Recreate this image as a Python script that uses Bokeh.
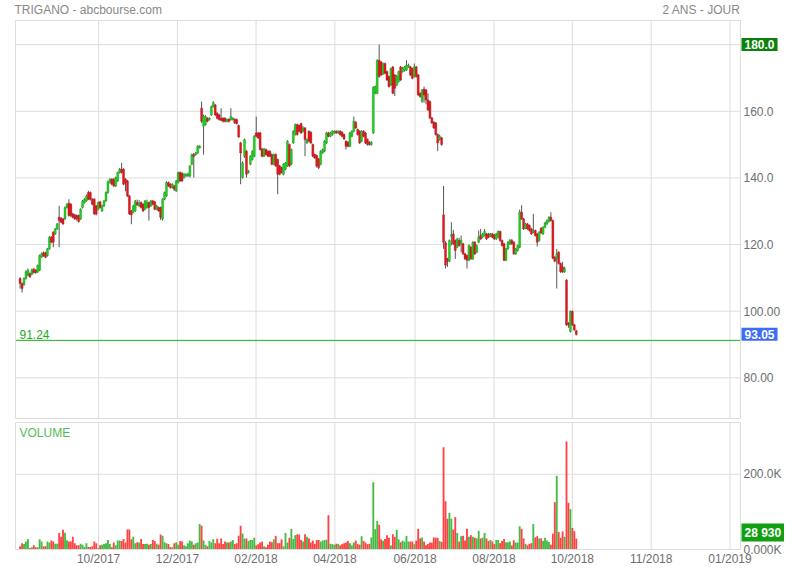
from bokeh.plotting import figure
from bokeh.models import ColumnDataSource, Label, Range1d
from bokeh.embed import file_html
from bokeh.resources import INLINE

# ---------------- data ----------------
open_ = [109.8,108.3,108.0,109.8,110.8,111.3,111.0,112.6,112.3,111.8,
         112.3,116.2,117.5,117.5,116.7,118.7,122.2,123.7,123.2,124.7,
         128.2,127.9,127.7,127.7,131.1,132.4,132.1,129.2,128.9,128.7,
         128.7,127.7,131.1,132.6,133.1,135.6,135.6,133.6,133.6,131.6,
         130.6,132.8,130.1,131.6,133.1,135.6,138.6,139.6,139.6,137.6,
         139.1,141.6,142.6,142.6,139.6,139.1,134.6,130.1,129.7,130.1,
         132.6,131.6,132.6,132.1,130.6,131.1,132.6,131.6,133.1,132.8,
         130.6,131.1,131.1,127.7,133.6,134.6,138.6,138.1,137.1,137.6,
         136.1,138.6,141.6,141.4,140.1,140.6,140.6,140.6,144.1,147.0,
         147.0,147.5,149.0,160.9,155.5,156.0,157.9,157.5,158.9,161.4,
         161.9,159.4,158.9,157.9,157.9,157.9,157.0,157.6,157.5,157.5,
         157.6,157.5,155.7,150.5,140.1,146.5,148.0,141.6,144.1,145.5,
         146.5,153.5,153.5,153.5,148.7,146.5,148.5,148.0,148.0,147.0,
         144.1,147.0,145.5,143.6,143.1,141.1,142.6,143.6,150.0,144.1,
         150.5,153.0,156.0,155.7,156.3,154.0,155.0,150.5,154.0,153.7,
         150.0,147.0,146.7,145.7,144.1,147.5,148.0,150.5,153.5,152.5,
         153.0,153.5,154.0,153.5,154.0,153.7,153.0,151.0,150.7,149.5,
         152.5,154.0,156.7,154.5,154.0,151.0,154.0,153.5,151.5,150.7,
         150.0,153.5,165.4,165.4,175.3,174.8,171.2,174.3,171.9,170.4,
         167.9,173.3,170.9,167.9,168.9,173.3,171.9,172.2,172.4,173.3,
         173.3,172.8,170.4,173.3,170.9,165.4,162.9,166.6,166.4,163.4,
         162.9,158.0,156.7,156.5,153.0,151.5,152.0,128.9,120.5,115.7,
         115.0,122.5,123.2,121.2,119.2,121.2,120.2,120.2,117.2,116.7,
         115.3,119.2,115.7,120.7,117.7,120.7,122.7,122.2,122.7,123.2,
         123.2,122.5,123.2,122.9,121.7,122.2,123.9,121.2,120.2,115.3,
         118.7,120.2,121.2,120.7,117.2,118.2,119.2,129.7,127.7,124.9,
         126.2,125.7,124.7,123.7,124.2,123.2,121.2,124.9,123.2,125.2,
         126.2,126.9,128.2,127.2,116.2,115.7,117.7,114.3,113.3,111.8,
         109.3,96.4,93.9,99.9,95.9,94.1]
high = [110.2,108.6,110.2,112.3,112.8,111.6,112.8,113.0,112.6,114.0,
        117.0,117.6,117.9,117.8,119.0,122.6,122.5,124.0,125.0,126.5,
        131.6,128.2,128.0,131.4,132.4,133.6,132.4,129.5,129.2,129.0,
        129.0,130.9,133.4,133.9,135.0,136.1,135.9,133.9,133.9,131.9,
        132.9,133.1,131.9,133.4,135.9,139.2,139.9,139.9,139.9,140.4,
        141.9,143.0,144.5,142.9,139.9,139.4,134.9,130.4,131.9,133.4,
        133.5,133.3,132.9,132.4,133.4,133.5,132.9,133.4,133.4,133.1,
        131.9,131.4,131.4,133.9,135.9,139.0,138.9,138.4,138.4,137.9,
        139.4,141.9,141.9,141.7,141.4,141.4,141.6,143.9,147.3,147.5,
        147.8,149.8,149.8,162.9,159.0,158.8,158.2,158.2,161.7,163.0,
        162.2,159.7,159.2,160.9,158.2,158.2,157.8,157.9,160.9,158.2,
        157.9,157.8,156.0,150.8,145.0,151.8,148.3,142.4,146.8,148.3,
        152.8,158.4,153.8,153.8,149.0,149.0,148.8,148.3,148.3,147.3,
        147.3,147.3,145.8,143.9,143.4,144.4,144.8,151.3,150.3,148.8,
        154.3,156.3,156.3,156.0,156.6,155.5,155.3,151.8,154.3,154.0,
        150.3,147.3,147.0,146.0,148.3,148.8,151.3,153.8,153.8,153.8,
        154.3,154.3,154.3,154.3,154.3,154.0,153.3,151.3,151.0,153.8,
        154.3,158.4,157.0,154.8,154.3,154.3,154.3,153.8,151.8,151.0,
        151.0,167.5,167.7,175.6,180.0,175.1,174.6,174.6,172.2,170.7,
        173.1,173.6,171.2,170.9,172.2,173.6,173.3,173.6,175.3,174.3,
        173.6,173.1,174.3,173.6,171.2,165.7,166.7,167.4,166.7,165.4,
        163.2,158.3,157.0,156.8,153.3,153.0,152.3,137.6,121.0,116.0,
        121.5,126.7,124.4,121.5,122.0,122.0,122.7,120.5,117.5,117.0,
        120.0,119.5,121.0,121.0,120.0,124.2,124.7,123.5,124.7,123.5,
        123.5,123.5,123.5,123.2,123.5,124.2,124.2,121.5,120.5,119.0,
        121.0,121.7,121.7,121.0,119.0,120.0,130.5,131.8,128.0,126.5,
        126.5,126.0,125.0,129.2,124.5,123.5,124.0,125.2,125.5,126.8,
        127.5,128.5,129.7,127.5,116.5,118.7,118.0,114.6,114.8,113.3,
        109.6,96.7,100.2,100.2,96.2,94.4]
low = [106.8,105.6,107.6,109.5,110.5,110.0,110.8,111.3,111.2,111.5,
       112.0,116.0,116.3,115.9,116.4,118.4,120.4,119.2,122.9,124.4,
       119.2,126.4,125.9,127.4,130.8,128.4,128.2,127.9,127.4,127.2,
       126.6,127.4,130.8,132.3,132.8,133.3,133.2,131.8,128.9,128.7,
       130.3,130.8,129.8,131.3,132.8,135.3,138.3,137.8,137.3,137.3,
       138.8,141.3,141.3,137.8,136.0,134.3,128.9,126.1,129.4,129.8,
       131.6,131.3,130.8,129.8,130.3,130.8,127.2,131.3,131.8,130.3,
       130.3,129.8,127.4,127.2,133.3,134.3,137.3,136.8,136.8,136.1,
       135.8,138.3,138.8,138.8,139.8,140.3,140.3,140.1,143.8,140.1,
       146.7,147.2,148.8,156.5,147.0,155.7,156.7,157.2,158.6,161.1,
       158.6,157.6,157.2,157.0,156.6,156.6,156.7,156.6,157.2,157.2,
       156.2,156.0,152.0,138.1,139.8,146.0,140.1,141.3,143.8,145.2,
       146.2,152.2,151.7,148.2,146.2,146.2,146.7,146.2,146.2,143.8,
       143.8,143.3,135.1,140.8,141.3,140.8,142.3,143.3,143.3,143.8,
       150.2,152.7,152.7,153.7,153.2,153.7,146.5,150.2,150.7,150.2,
       146.2,145.7,143.1,142.6,143.8,147.2,147.7,150.2,152.2,152.2,
       152.7,153.2,153.2,153.2,152.7,152.2,151.4,148.5,149.2,149.2,
       152.2,153.7,154.7,152.7,150.2,150.7,152.2,150.2,149.7,149.7,
       149.7,153.2,165.1,165.1,170.1,170.6,170.9,171.1,169.1,167.1,
       167.6,165.1,164.6,167.6,168.6,169.1,171.6,171.9,172.1,173.0,
       170.6,169.6,170.1,170.1,164.6,164.1,162.6,162.6,162.1,160.1,
       157.7,156.2,154.7,152.7,148.0,151.2,149.7,118.7,112.8,113.3,
       114.7,119.7,119.9,115.7,118.9,119.4,117.7,116.9,115.4,112.8,
       115.0,115.4,115.4,116.9,117.4,120.4,121.4,121.9,122.4,121.4,
       121.9,122.2,121.9,121.4,121.4,121.9,120.9,119.4,115.0,115.0,
       118.4,119.9,119.9,116.9,116.9,117.9,118.9,127.4,124.4,124.6,
       124.4,123.9,122.9,123.4,122.4,119.4,120.9,123.2,122.9,124.9,
       125.9,126.6,126.9,115.6,114.7,106.8,114.0,111.5,111.5,111.5,
       95.6,95.0,93.6,95.6,94.1,92.7]
close = [108.3,106.8,109.8,111.8,112.3,110.3,112.3,111.6,111.6,113.7,
         116.7,117.2,116.7,116.2,118.7,122.2,120.7,120.7,124.7,126.2,
         127.2,126.7,126.2,131.1,132.1,128.7,128.7,128.2,127.7,127.7,
         126.9,130.6,133.1,133.6,134.6,133.6,133.6,132.1,129.2,129.2,
         132.6,131.1,131.6,133.1,135.6,138.8,139.6,138.1,137.6,140.1,
         141.6,142.6,141.6,138.1,138.6,134.6,129.2,128.9,131.6,133.1,
         131.9,132.4,131.1,130.1,133.1,132.6,131.1,133.1,132.1,130.6,
         131.6,130.1,128.2,133.6,135.6,138.6,137.6,137.1,138.1,136.6,
         139.1,141.6,139.1,139.1,141.1,141.1,141.1,143.6,147.0,146.5,
         147.5,149.5,149.5,157.0,158.4,158.4,157.0,157.9,161.4,162.6,
         158.9,157.9,157.5,157.3,157.0,157.0,157.5,157.0,158.4,157.9,
         156.5,156.3,152.3,147.5,144.5,151.5,141.1,142.0,146.5,148.0,
         152.5,152.5,152.0,148.5,146.5,148.7,147.0,146.5,146.5,144.1,
         147.0,143.6,141.1,141.1,141.6,144.1,144.5,151.0,143.6,148.5,
         154.0,156.0,153.0,154.0,153.5,155.0,151.5,151.5,151.0,150.5,
         146.5,146.0,143.6,143.1,148.0,148.5,151.0,153.5,152.5,153.5,
         154.0,154.0,153.5,154.0,153.0,152.5,151.7,149.5,149.5,153.5,
         154.0,157.0,155.0,153.0,150.5,154.0,152.5,150.5,150.0,150.0,
         150.7,167.2,167.4,175.3,170.4,170.9,174.3,171.4,169.4,167.4,
         172.8,165.4,166.9,170.6,171.9,169.4,172.8,173.3,173.8,173.8,
         170.9,169.9,173.3,170.4,164.9,164.4,166.4,164.9,163.4,160.4,
         158.0,156.5,155.0,153.0,150.5,152.5,150.0,120.7,113.8,115.0,
         121.2,122.9,120.2,118.2,121.7,119.7,121.2,117.2,115.7,115.3,
         119.7,115.7,120.7,117.2,119.7,122.2,121.7,123.2,123.9,121.7,
         122.2,123.2,122.2,121.7,123.2,123.9,121.2,119.7,115.3,118.7,
         120.7,121.2,120.2,117.2,118.7,119.7,129.7,127.7,124.7,126.2,
         124.7,124.2,123.2,124.2,122.7,120.7,123.7,123.5,125.2,126.5,
         127.2,128.2,127.2,115.9,115.0,117.2,114.3,111.8,111.8,112.8,
         95.9,95.9,99.9,95.9,94.4,93.05]
# daily volume, in thousands of shares
volume = [8.4,16.9,14.3,21.1,27.9,4.2,5.9,11.0,5.9,5.9,
          27.0,21.1,8.4,8.4,21.1,18.6,23.6,21.1,15.2,15.2,
          43.9,33.8,52.3,44.7,24.5,21.1,21.1,33.8,16.9,11.0,
          11.0,15.2,12.7,6.8,16.9,6.8,6.8,8.4,21.1,16.9,
          4.2,11.0,12.7,14.3,16.9,25.3,14.3,5.9,18.6,11.0,
          23.6,23.6,22.8,27.9,18.6,53.2,53.2,27.0,33.8,16.9,
          19.4,18.6,27.9,14.3,14.3,15.2,12.7,14.3,25.3,22.8,
          15.2,12.7,39.7,36.3,19.4,16.9,14.3,6.8,5.9,16.9,
          19.4,12.7,22.8,21.1,11.0,8.4,16.9,23.6,21.1,12.7,
          16.9,18.6,67.5,63.3,23.6,12.7,8.4,22.8,18.6,27.0,
          16.9,28.7,16.9,29.5,14.3,21.1,18.6,18.6,21.1,25.3,
          14.3,16.9,36.3,63.3,42.2,29.5,29.5,22.8,25.3,25.3,
          31.2,11.0,14.3,18.6,21.1,8.4,5.9,12.7,21.1,19.4,
          27.0,36.3,16.9,16.9,27.0,8.4,43.9,18.6,31.2,54.9,
          27.9,38.0,40.5,39.7,25.3,21.1,40.5,33.8,29.5,18.6,
          23.6,15.2,25.3,25.3,21.1,23.6,25.3,26.2,91.2,15.2,
          14.3,12.7,15.2,15.2,11.0,14.3,16.9,18.6,22.8,16.9,
          11.0,18.6,23.6,14.3,12.7,35.4,22.8,18.6,14.3,15.2,
          32.1,178.9,54.0,76.0,65.8,27.0,23.6,27.9,38.0,31.2,
          11.0,40.5,33.8,52.3,27.0,19.4,23.6,21.1,36.3,21.1,
          21.1,21.1,14.3,23.6,54.9,29.5,32.1,21.1,11.0,14.3,
          18.6,18.6,32.1,31.2,31.2,22.8,20.0,271.8,128.3,81.9,
          97.1,81.9,53.2,86.1,43.9,21.1,35.4,36.3,23.6,54.9,
          33.8,38.0,33.8,31.2,29.5,49.8,29.5,31.2,43.9,29.5,
          22.8,25.3,21.1,14.3,25.3,25.3,16.9,22.8,27.9,19.4,
          19.4,21.1,11.0,24.5,18.6,18.6,61.6,54.9,29.5,15.2,
          11.0,15.2,16.9,67.5,32.1,35.4,29.5,29.5,22.8,31.2,
          23.6,20.0,12.7,42.2,125.8,195.8,46.4,31.2,48.1,33.8,
          287.0,124.1,107.2,57.4,49.0,28.93]

ref_line = 91.24
price_ticks = [80, 100, 120, 140, 160, 180]
price_tick_labels = ["80.00", "100.00", "120.0", "140.0", "160.0", "180.0"]
volume_ticks = [0, 200]
volume_tick_labels = ["0.000K", "200.0K"]
month_ticks = [40.2, 80.6, 120.9, 161.3, 202.4, 242.8, 283.0, 323.4, 363.8]   # trading-day index
month_labels = ["10/2017", "12/2017", "02/2018", "04/2018", "06/2018",
                "08/2018", "10/2018", "11/2018", "01/2019"]
title_left = "TRIGANO - abcbourse.com"
title_right = "2 ANS - JOUR"
volume_title = "VOLUME"

# ---------------- layout (canvas pixels) ----------------
FONT = "Liberation Sans"
W, H = 784, 564
FX0, FX1 = 15, 740              # chart frames, left / right
P_TOP, P_BOT = 20, 418          # price frame
V_TOP, V_BOT = 422, 549         # volume frame
X0, X1 = -2.37, 369.17          # index range shown in the frames
PY0, PY1 = 67.79, 187.24        # price range shown
VY0, VY1 = 0.0, 337.5           # volume range shown (K)

sx = (FX1 - FX0) / (X1 - X0)
sp = (P_BOT - P_TOP) / (PY1 - PY0)
sv = (V_BOT - V_TOP) / (VY1 - VY0)
def xd(px):
    return X0 + (px - FX0) / sx
def yp(py):
    return PY1 - (py - P_TOP) / sp
def yv(py):
    return VY1 - (py - V_TOP) / sv

GREEN, RED = "#22cf22", "#e3181c"
GREEN_EDGE, RED_EDGE = "#169a16", "#a81216"
VGREEN, VRED = "#44bb44", "#ff4343"
GRID = "#dddddd"
TXT = "#6e6e6e"

N = len(close)
idx = list(range(N))
is_up = [c >= o for o, c in zip(open_, close)]
src = ColumnDataSource(dict(
    x=idx, h=high, l=low,
    top=[max(o, c) for o, c in zip(open_, close)],
    bottom=[min(o, c) for o, c in zip(open_, close)],
    color=[GREEN if u else RED for u in is_up],
    edge=[GREEN_EDGE if u else RED_EDGE for u in is_up],
    vcolor=[VGREEN if u else VRED for u in is_up],
    vol=volume))

p = figure(width=W, height=H, x_range=Range1d(xd(0), xd(W)), y_range=Range1d(yp(H), yp(0)),
           output_backend="svg", toolbar_location=None,
           x_axis_location=None, y_axis_location=None,
           min_border=0, min_border_left=0, min_border_right=0,
           min_border_top=0, min_border_bottom=0,
           outline_line_color=None, border_fill_color="white", background_fill_color="white")
p.extra_y_ranges = {"vol": Range1d(yv(H), yv(0))}
p.grid.visible = False

# ---- grids ----
nm = len(month_ticks)
p.segment(x0=month_ticks, x1=month_ticks, y0=[PY0] * nm, y1=[PY1] * nm, line_color=GRID, line_width=1)
p.segment(x0=[X0] * len(price_ticks), x1=[X1] * len(price_ticks), y0=price_ticks, y1=price_ticks,
          line_color=GRID, line_width=1)
p.segment(x0=month_ticks, x1=month_ticks, y0=[VY0] * nm, y1=[VY1] * nm, line_color=GRID,
          line_width=1, y_range_name="vol")
p.segment(x0=[X0], x1=[X1], y0=volume_ticks[1:], y1=volume_ticks[1:],
          line_color=GRID, line_width=1, y_range_name="vol")

# ---- price candles ----
p.segment(x0="x", y0="h", x1="x", y1="l", source=src, line_color="#555555", line_width=1)
p.vbar(x="x", width=1.0, top="top", bottom="bottom", fill_color="color", line_color="edge",
       line_width=0.4, source=src)
p.segment(x0=[X0], x1=[X1], y0=[ref_line], y1=[ref_line], line_color="#1db31d", line_width=1)

# ---- volume bars ----
p.vbar(x="x", width=0.95, top="vol", bottom=0, fill_color="vcolor", line_color=None, source=src,
       y_range_name="vol")

# ---- frame outlines ----
p.quad(left=[X0], right=[X1], bottom=[PY0], top=[PY1], fill_color=None, line_color=GRID, line_width=1)
p.quad(left=[X0], right=[X1], bottom=[VY0], top=[VY1], fill_color=None, line_color=GRID, line_width=1,
       y_range_name="vol")

def lab(x, y, text, **kw):
    opts = dict(text_font=FONT, text_font_size="12px", text_color=TXT, text_baseline="middle")
    opts.update(kw)
    p.add_layout(Label(x=x, y=y, text=text, **opts))

# axis labels
for t, s in zip(price_ticks, price_tick_labels):
    lab(xd(743), t, s)
for t, s in zip(volume_ticks, volume_tick_labels):
    lab(xd(743), t, s, y_range_name="vol")
for t, s in zip(month_ticks, month_labels):
    lab(t, yv(558), s, text_align="center", y_range_name="vol")

# titles and in-panel captions
lab(xd(14), yp(9.5), title_left, text_color="#888888")
lab(xd(740), yp(9.5), title_right, text_color="#888888", text_align="right")
lab(xd(19), ref_line, f"{ref_line:.2f}", text_baseline="bottom", y_offset=1, text_color="#22aa22")
lab(xd(19), VY1, volume_title, text_baseline="top", y_offset=-3, text_color="#55bb55",
    y_range_name="vol")

# value boxes on the right side
box = dict(text_font_style="bold", text_color="white",
           padding=dict(left=3, right=3, top=2, bottom=2))
lab(xd(741), max(high), f"{max(high):.1f}", background_fill_color="#0a820a", **box)
lab(xd(741), close[-1], f"{close[-1]:.2f}", background_fill_color="#3d6df2", **box)
last_vol = f"{int(round(volume[-1] * 1000)):,}".replace(",", " ")
lab(xd(741), volume[-1], last_vol, background_fill_color="#12a012", y_offset=6,
    y_range_name="vol", **box)

open("out.html", "w").write(file_html(p, INLINE))
